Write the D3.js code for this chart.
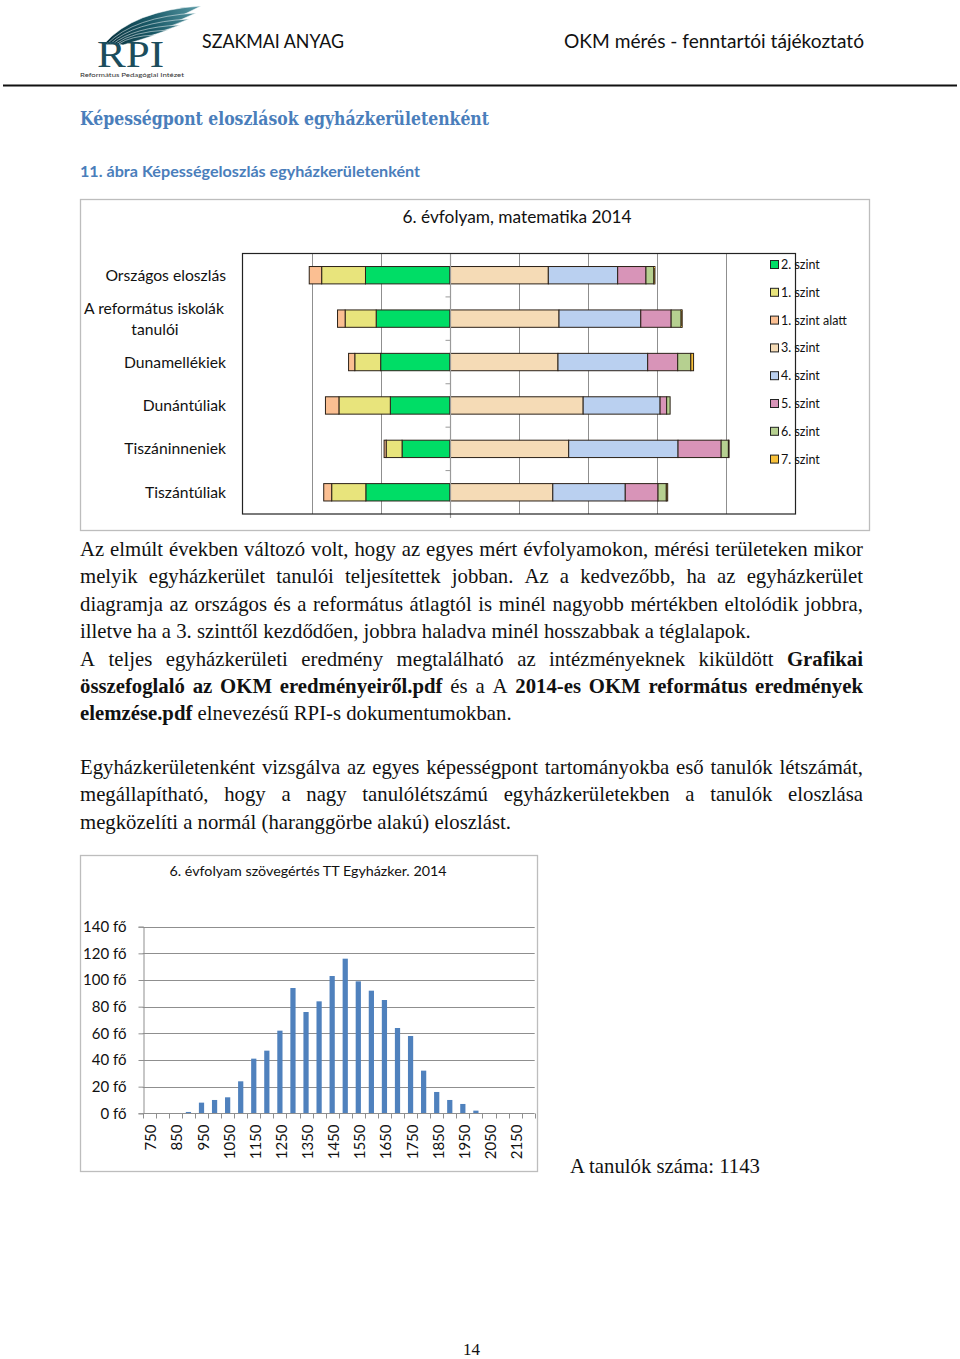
<!DOCTYPE html>
<html>
<head>
<meta charset="utf-8">
<script src="https://cdn.jsdelivr.net/npm/d3@7"></script>
<style>
html,body{margin:0;padding:0;background:#fff;}
svg{display:block;}
</style>
</head>
<body>
<script>
// ---------- DATA ----------
const topCategories = ["Országos eloszlás", "A református iskolák tanulói", "Dunamellékiek", "Dunántúliak", "Tiszáninneniek", "Tiszántúliak"];
const seriesNames = ["2. szint", "1. szint", "1. szint alatt", "3. szint", "4. szint", "5. szint", "6. szint", "7. szint"];
const leftSeriesNames = ["2. szint", "1. szint", "1. szint alatt"];
const rightSeriesNames = ["3. szint", "4. szint", "5. szint", "6. szint", "7. szint"];
const szint2 = [24.5, 21.4, 20.1, 17.3, 13.9, 24.4];
const szint1 = [12.7, 9.0, 7.5, 14.9, 4.6, 9.9];
const szint1alatt = [3.6, 2.2, 1.8, 3.9, 0.6, 2.3];
const szint3 = [28.5, 31.6, 31.3, 38.6, 34.4, 29.8];
const szint4 = [20.1, 23.7, 26.0, 22.3, 31.7, 21.0];
const szint5 = [8.2, 8.8, 8.7, 1.9, 12.5, 9.5];
const szint6 = [2.3, 2.9, 3.8, 1.0, 2.1, 2.4];
const szint7 = [0.3, 0.3, 0.8, 0.0, 0.2, 0.4];
const topTicks = [-60, -40, -20, 0, 20, 40, 60, 80, 100];

const histCategories = ["750","800","850","900","950","1000","1050","1100","1150","1200","1250","1300","1350","1400","1450","1500","1550","1600","1650","1700","1750","1800","1850","1900","1950","2000","2050","2100","2150","2200"];
const histValues = [0, 0, 0, 1, 8, 10, 12, 24, 41, 47, 62, 94, 76, 84, 103, 116, 99, 92, 85, 64, 58, 32, 16, 10, 7, 2, 0, 0, 0, 0];
const histTicks = [0, 20, 40, 60, 80, 100, 120, 140];
const totalStudents = 1143;

// ---------- STYLES ----------
const seriesColors = {
  "2. szint": "#00dd66",
  "1. szint": "#e8e47c",
  "1. szint alatt": "#fbbf92",
  "3. szint": "#f5dbb6",
  "4. szint": "#bad0f0",
  "5. szint": "#d894b8",
  "6. szint": "#b6d090",
  "7. szint": "#f8c13a"
};
const seriesData = {
  "2. szint": szint2, "1. szint": szint1, "1. szint alatt": szint1alatt,
  "3. szint": szint3, "4. szint": szint4, "5. szint": szint5, "6. szint": szint6, "7. szint": szint7
};
const SANS = "Lato, 'Open Sans', sans-serif";
const SERIF = "'Liberation Serif', 'Times New Roman', serif";
const BODY_SIZE = 20.75;

const svg = d3.select("body").append("svg").attr("width", 960).attr("height", 1359);
svg.append("rect").attr("width", 960).attr("height", 1359).attr("fill", "#fff");

// ---------- HEADER ----------
const logo = svg.append("g");
const grad = svg.append("defs").append("linearGradient").attr("id", "wing")
  .attr("gradientUnits", "userSpaceOnUse").attr("x1", 105).attr("y1", 44).attr("x2", 200).attr("y2", 6);
grad.append("stop").attr("offset", "0").attr("stop-color", "#08303c");
grad.append("stop").attr("offset", "0.5").attr("stop-color", "#1a5a68");
grad.append("stop").attr("offset", "1").attr("stop-color", "#5a9aa6");
const feathers = [
  [104, 44, 201, 6],
  [107, 44, 196, 13],
  [110, 44, 189, 19],
  [113, 44, 180, 25],
  [116, 44, 168, 30],
  [119, 44, 155, 35]
];
feathers.forEach(f => {
  const [sx, sy, tx, ty] = f;
  const c1x = sx + (tx - sx) * 0.3, c1y = ty + (sy - ty) * 0.12;
  const c2x = sx + (tx - sx) * 0.55, c2y = ty + (sy - ty) * 0.6;
  logo.append("path")
    .attr("d", `M${sx},${sy} Q${c1x},${c1y} ${tx},${ty} Q${c2x},${c2y} ${sx + 4},${sy + 1} Z`)
    .attr("fill", "url(#wing)").attr("stroke", "#fff").attr("stroke-width", 0.5);
});
logo.append("text").attr("x", 97).attr("y", 67).attr("font-family", SERIF).attr("font-size", 38)
  .attr("fill", "#1c4d5c").attr("textLength", 67).attr("lengthAdjust", "spacingAndGlyphs").text("RPI");
logo.append("text").attr("x", 80).attr("y", 77).attr("font-family", SANS).attr("font-size", 6.5)
  .attr("fill", "#333").attr("textLength", 104).attr("lengthAdjust", "spacingAndGlyphs").text("Református Pedagógiai Intézet");

svg.append("text").attr("x", 202).attr("y", 48).attr("font-family", SANS).attr("font-size", 18.5)
  .attr("fill", "#111").attr("textLength", 142).attr("lengthAdjust", "spacingAndGlyphs").text("SZAKMAI ANYAG");
svg.append("text").attr("x", 564).attr("y", 48).attr("font-family", SANS).attr("font-size", 18.5)
  .attr("fill", "#111").attr("textLength", 300).attr("lengthAdjust", "spacingAndGlyphs").text("OKM mérés - fenntartói tájékoztató");
svg.append("line").attr("x1", 3).attr("x2", 957).attr("y1", 85.5).attr("y2", 85.5).attr("stroke", "#111").attr("stroke-width", 2);

svg.append("text").attr("x", 80).attr("y", 125).attr("font-family", "'DejaVu Serif', serif").attr("font-weight", "bold")
  .attr("font-size", 18).attr("fill", "#4a7ebb").attr("textLength", 409).attr("lengthAdjust", "spacingAndGlyphs")
  .text("Képességpont eloszlások egyházkerületenként");
svg.append("text").attr("x", 80).attr("y", 177).attr("font-family", SANS).attr("font-weight", "bold")
  .attr("font-size", 15).attr("fill", "#4a7ebb").attr("textLength", 340).attr("lengthAdjust", "spacingAndGlyphs")
  .text("11. ábra Képességeloszlás egyházkerületenként");

// ---------- TOP CHART ----------
const topG = svg.append("g");
topG.append("rect").attr("x", 80.5).attr("y", 199.5).attr("width", 789).attr("height", 331)
  .attr("fill", "#fff").attr("stroke", "#bdbdbd").attr("stroke-width", 1.3);
topG.append("text").attr("x", 517).attr("y", 223).attr("text-anchor", "middle").attr("font-family", SANS)
  .attr("font-size", 17.3).attr("fill", "#111").text("6. évfolyam, matematika 2014");

const px0 = 243, px1 = 795, py0 = 253.5, py1 = 514;
const xTop = d3.scaleLinear().domain([topTicks[0], topTicks[topTicks.length - 1]]).range([px0, px1]);
const yTop = d3.scaleBand().domain(topCategories).range([py0, py1]).paddingInner(0.6).paddingOuter(0.3);

// gridlines
topG.selectAll("line.grid").data(topTicks.slice(1, -1).filter(d => d !== 0)).enter().append("line")
  .attr("x1", d => Math.round(xTop(d)) + 0.5).attr("x2", d => Math.round(xTop(d)) + 0.5)
  .attr("y1", py0).attr("y2", py1).attr("stroke", "#8f8f8f").attr("stroke-width", 1);

// segments
const segs = [];
topCategories.forEach((c, i) => {
  let neg = 0;
  leftSeriesNames.forEach(s => {
    const v = seriesData[s][i];
    segs.push({c, s, x0: neg - v, x1: neg});
    neg -= v;
  });
  let pos = 0;
  rightSeriesNames.forEach(s => {
    const v = seriesData[s][i];
    if (v > 0) segs.push({c, s, x0: pos, x1: pos + v});
    pos += v;
  });
});
topG.selectAll("rect.seg").data(segs).enter().append("rect")
  .attr("x", d => xTop(d.x0)).attr("width", d => Math.max(0.3, xTop(d.x1) - xTop(d.x0)))
  .attr("y", d => yTop(d.c)).attr("height", yTop.bandwidth())
  .attr("fill", d => seriesColors[d.s]).attr("stroke", "#2b2118").attr("stroke-width", 1);

// zero axis with category ticks
const z = Math.round(xTop(0)) + 0.5;
topG.append("line").attr("x1", z).attr("x2", z).attr("y1", py0).attr("y2", py1 + 4).attr("stroke", "#9a9a9a").attr("stroke-width", 1.2);
const bounds = d3.range(1, topCategories.length).map(k => py0 + k * yTop.step());
topG.selectAll("line.ctick").data(bounds).enter().append("line")
  .attr("x1", z - 5).attr("x2", z).attr("y1", d => d).attr("y2", d => d).attr("stroke", "#9a9a9a");

// plot border
topG.append("rect").attr("x", px0 - 0.5).attr("y", py0).attr("width", px1 - px0 + 1).attr("height", py1 - py0)
  .attr("fill", "none").attr("stroke", "#222").attr("stroke-width", 1.2);

// category labels
topCategories.forEach((c, i) => {
  const cy = yTop(c) + yTop.bandwidth() / 2;
  if (c === "A református iskolák tanulói") {
    const t = topG.append("text").attr("text-anchor", "middle").attr("font-family", SANS).attr("font-size", 15.7).attr("fill", "#111");
    t.append("tspan").attr("x", 154).attr("y", cy - 5).text("A református iskolák");
    t.append("tspan").attr("x", 155).attr("y", cy + 16).text("tanulói");
  } else {
    topG.append("text").attr("x", 226).attr("y", cy + 5.5).attr("text-anchor", "end").attr("font-family", SANS)
      .attr("font-size", 15.7).attr("fill", "#111").text(c);
  }
});

// legend
const legend = topG.append("g");
seriesNames.forEach((s, i) => {
  const ly = 264.5 + i * 27.8;
  legend.append("rect").attr("x", 770.5).attr("y", ly - 4).attr("width", 8).attr("height", 8)
    .attr("fill", seriesColors[s]).attr("stroke", "#222").attr("stroke-width", 1);
  legend.append("text").attr("x", 781).attr("y", ly + 4.5).attr("font-family", SANS).attr("font-size", 12.5)
    .attr("fill", "#111").text(s);
});

// ---------- PARAGRAPHS ----------
function lineText(runs, x0, y, width, justify, size) {
  const words = [];
  runs.forEach(r => r.t.split(" ").filter(w => w.length).forEach(w => words.push({w, b: r.b})));
  const g = svg.append("g");
  const els = words.map(wd => g.append("text").attr("y", y).attr("font-family", SERIF).attr("font-size", size)
    .attr("font-weight", wd.b ? "bold" : "normal").attr("fill", "#111").text(wd.w));
  const widths = els.map(e => e.node().getComputedTextLength());
  const total = d3.sum(widths);
  const gap = justify && words.length > 1 ? (width - total) / (words.length - 1) : size * 0.25;
  let x = x0;
  els.forEach((e, k) => { e.attr("x", x); x += widths[k] + gap; });
}
const P = (t, b) => ({t, b: !!b});
const para1 = [
  [[P("Az elmúlt években változó volt, hogy az egyes mért évfolyamokon, mérési területeken mikor")], true],
  [[P("melyik egyházkerület tanulói teljesítettek jobban. Az a kedvezőbb, ha az egyházkerület")], true],
  [[P("diagramja az országos és a református átlagtól is minél nagyobb mértékben eltolódik jobbra,")], true],
  [[P("illetve ha a 3. szinttől kezdődően, jobbra haladva minél hosszabbak a téglalapok.")], false],
  [[P("A teljes egyházkerületi eredmény megtalálható az intézményeknek kiküldött"), P("Grafikai", 1)], true],
  [[P("összefoglaló az OKM eredményeiről.pdf", 1), P("és a A"), P("2014-es OKM református eredmények", 1)], true],
  [[P("elemzése.pdf", 1), P("elnevezésű RPI-s dokumentumokban.")], false]
];
para1.forEach((l, k) => lineText(l[0], 80, 556 + k * 27.4, 783, l[1], BODY_SIZE));
const para2 = [
  [[P("Egyházkerületenként vizsgálva az egyes képességpont tartományokba eső tanulók létszámát,")], true],
  [[P("megállapítható, hogy a nagy tanulólétszámú egyházkerületekben a tanulók eloszlása")], true],
  [[P("megközelíti a normál (haranggörbe alakú) eloszlást.")], false]
];
para2.forEach((l, k) => lineText(l[0], 80, 774 + k * 27.4, 783, l[1], BODY_SIZE));

// ---------- BOTTOM CHART ----------
const bot = svg.append("g");
bot.append("rect").attr("x", 80.5).attr("y", 855.5).attr("width", 457).attr("height", 316)
  .attr("fill", "#fff").attr("stroke", "#bdbdbd").attr("stroke-width", 1.3);
bot.append("text").attr("x", 308).attr("y", 876).attr("text-anchor", "middle").attr("font-family", SANS)
  .attr("font-size", 14.3).attr("fill", "#111").text("6. évfolyam szövegértés TT Egyházker. 2014");

const bx0 = 142.7, bx1 = 534.7, by0 = 1113.3, by1 = 926.7;
const xB = d3.scaleBand().domain(histCategories).range([bx0, bx1]).paddingInner(0.6).paddingOuter(0.3);
const yB = d3.scaleLinear().domain([histTicks[0], histTicks[histTicks.length - 1]]).range([by0, by1]);

bot.selectAll("line.g").data(histTicks.slice(1)).enter().append("line")
  .attr("x1", bx0).attr("x2", bx1).attr("y1", d => Math.round(yB(d)) + 0.5).attr("y2", d => Math.round(yB(d)) + 0.5)
  .attr("stroke", "#8f8f8f").attr("stroke-width", 1);

bot.selectAll("rect.bar").data(histCategories.map((c, i) => ({c, v: histValues[i]})).filter(d => d.v > 0)).enter().append("rect")
  .attr("x", d => xB(d.c)).attr("width", xB.bandwidth())
  .attr("y", d => yB(d.v)).attr("height", d => yB(0) - yB(d.v)).attr("fill", "#4f81bd");

// y axis
const yAxis = d3.axisLeft(yB).tickValues(histTicks).tickSize(5).tickFormat(d => d + " fő");
const yg = bot.append("g").attr("transform", `translate(${Math.round(bx0) + 0.5},0)`).call(yAxis);
yg.select(".domain").attr("stroke", "#8f8f8f");
yg.selectAll(".tick line").attr("stroke", "#8f8f8f");
yg.selectAll(".tick text").attr("x", -17).attr("font-family", SANS).attr("font-size", 15).attr("fill", "#111");

// x axis
const xg = bot.append("g").attr("transform", `translate(0,${Math.round(by0) + 0.5})`);
xg.append("line").attr("x1", bx0).attr("x2", bx1).attr("stroke", "#8f8f8f");
xg.selectAll("line.xt").data(d3.range(histCategories.length + 1)).enter().append("line")
  .attr("x1", k => Math.round(bx0 + k * xB.step()) + 0.5).attr("x2", k => Math.round(bx0 + k * xB.step()) + 0.5)
  .attr("y1", 0).attr("y2", 5).attr("stroke", "#8f8f8f");
xg.selectAll("text.xl").data(histCategories.filter((c, i) => i % 2 === 0)).enter().append("text")
  .attr("transform", d => `translate(${xB(d) + xB.bandwidth() / 2 + 7},11) rotate(-90)`)
  .attr("text-anchor", "end").attr("font-family", SANS).attr("font-size", 15).attr("fill", "#111").text(d => d);

svg.append("text").attr("x", 570).attr("y", 1173).attr("font-family", SERIF).attr("font-size", BODY_SIZE)
  .attr("fill", "#111").text("A tanulók száma: " + totalStudents);

svg.append("text").attr("x", 463).attr("y", 1355).attr("font-family", SERIF).attr("font-size", 17)
  .attr("fill", "#111").text("14");
</script>
</body>
</html>
